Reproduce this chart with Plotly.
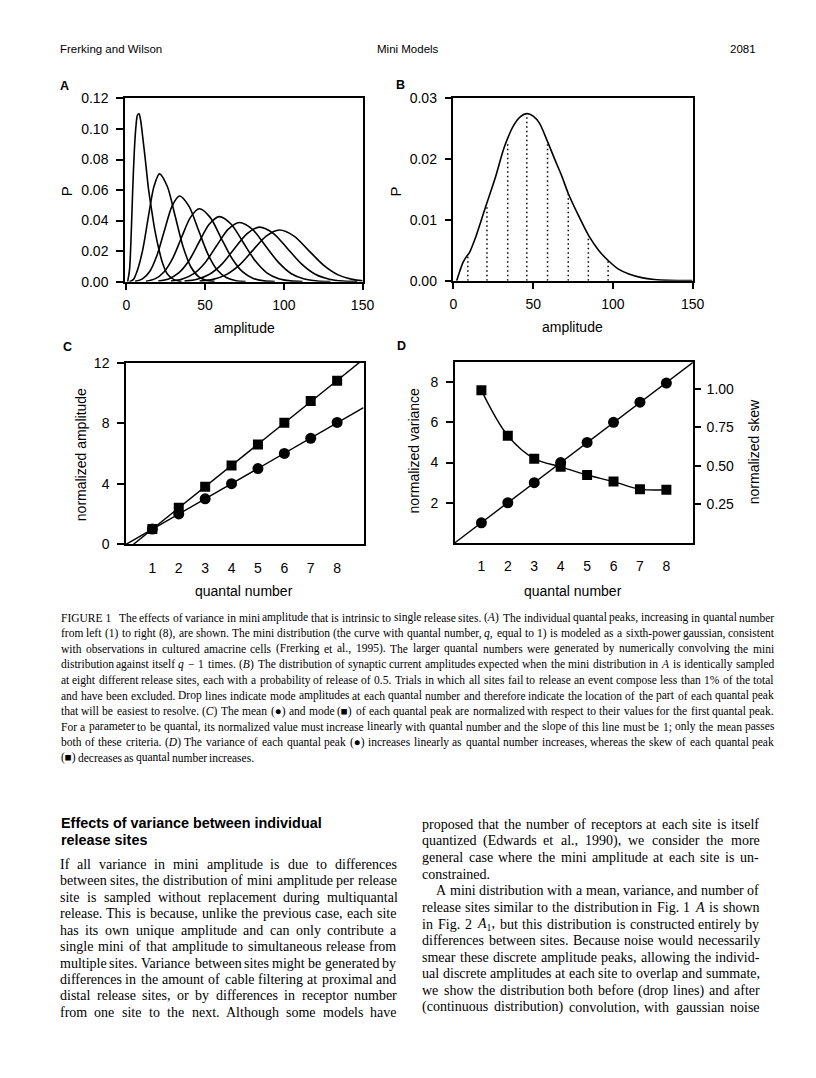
import re
import numpy as np
import plotly.graph_objects as go

W, H = 816, 1078
PAGE_MARGIN = 8  # default body margin of the html page (both sides)
SANS = "Liberation Sans, Arial, sans-serif"
SERIF = "Liberation Serif, Times New Roman, serif"

# ---------------- values ----------------
# (A) quantal peaks q = 1..8 : amplitude and P
PEAK1_X = [0.8, 2, 3, 4, 5, 6, 7, 8, 9, 10, 12, 14, 16, 18, 20, 23, 26, 30, 35]
PEAK1_Y = [0, 0.008, 0.030, 0.060, 0.085, 0.101, 0.109, 0.110, 0.106, 0.098,
           0.080, 0.061, 0.047, 0.034, 0.024, 0.012, 0.005, 0.0015, 0]
PEAK2_X = [2, 4.5, 7, 10.5, 14, 17.5, 21, 26, 31, 36, 41, 46, 51, 56]
PEAK2_Y = [0, 0.0015, 0.0075, 0.0215, 0.0428, 0.0623, 0.0706, 0.0623,
           0.0428, 0.0229, 0.0096, 0.0031, 0.0008, 0.0002]
PEAK3_X = [5.5, 10.2, 14.9, 19.6, 24.3, 29.0, 33.7, 39.7, 45.7, 51.7, 57.7, 63.7, 69.7, 75.7]
PEAK3_Y = [0.0002, 0.0018, 0.0068, 0.0178, 0.0340, 0.0495, 0.0561, 0.0495,
           0.0340, 0.0182, 0.0076, 0.0025, 0.0006, 0.0001]
PEAK4_X = [12.4, 18.1, 23.7, 29.4, 35.0, 40.7, 46.3, 53.2, 60.0, 66.9, 73.7, 80.6, 87.4, 94.3]
PEAK4_Y = [0.0003, 0.0018, 0.0062, 0.0153, 0.0289, 0.0421, 0.0477, 0.0421,
           0.0289, 0.0155, 0.0065, 0.0021, 0.0005, 0.0001]
PEAK5_X = [20.3, 26.8, 33.2, 39.7, 46.1, 52.6, 59.0, 66.6, 74.1, 81.7, 89.2, 96.8, 104.3, 111.9]
PEAK5_Y = [0.0004, 0.0018, 0.0057, 0.0137, 0.0258, 0.0376, 0.0426, 0.0376,
           0.0258, 0.0138, 0.0058, 0.0019, 0.0005, 0.0001]
PEAK6_X = [28.3, 35.6, 42.8, 50.1, 57.3, 64.6, 71.8, 80.1, 88.3, 96.6, 104.8, 113.1, 121.3, 129.6]
PEAK6_Y = [0.0004, 0.0017, 0.0052, 0.0126, 0.0235, 0.0342, 0.0387, 0.0342,
           0.0235, 0.0126, 0.0052, 0.0017, 0.0004, 0.0001]
PEAK7_X = [36.9, 44.9, 52.8, 60.8, 68.7, 76.7, 84.6, 93.5, 102.3, 111.2, 120.0, 128.9, 137.7, 146.6]
PEAK7_Y = [0.0004, 0.0016, 0.0048, 0.0116, 0.0217, 0.0315, 0.0357, 0.0315,
           0.0217, 0.0116, 0.0048, 0.0016, 0.0004, 0.0001]
PEAK8_X = [46.5, 55.0, 63.4, 71.9, 80.3, 88.8, 97.2, 106.5, 115.7, 125.0, 134.2, 143.5, 150]
PEAK8_Y = [0.0004, 0.0015, 0.0046, 0.0110, 0.0205, 0.0298, 0.0338, 0.0298,
           0.0205, 0.0110, 0.0046, 0.0015, 0.0006]

# (B) summed amplitude distribution and mode drop lines
B_X = [2, 4, 6, 8, 10, 14, 20, 26, 32, 38, 42, 46, 50, 54, 59, 64, 68, 72,
       78, 85, 91, 97, 104, 110, 118, 126, 135, 150]
B_Y = [0, 0.0016, 0.0030, 0.0039, 0.0046, 0.0072, 0.0120, 0.0167, 0.0220,
       0.0256, 0.0269, 0.0274, 0.0270, 0.0258, 0.0228, 0.0196, 0.0171, 0.0143,
       0.0109, 0.0073, 0.0050, 0.0033, 0.0018, 0.0011, 0.0005, 0.0002, 0.00005, 0]
DROP_X = [9, 21, 34, 46, 59, 72, 84.6, 97]
DROP_Y = [0.0042, 0.0125, 0.0226, 0.0273, 0.0228, 0.0143, 0.0074, 0.0033]

# (C) / (D) per quantal number
QUANTAL = [1, 2, 3, 4, 5, 6, 7, 8]
C_MEAN = [1, 2, 3, 4, 5, 6, 7, 8.05]
C_MODE = [1, 2.41, 3.8, 5.2, 6.6, 8.03, 9.46, 10.8]
D_VAR = [1, 2, 3, 4, 5, 6, 7, 7.95]
D_SKEW = [0.99, 0.696, 0.547, 0.494, 0.441, 0.398, 0.349, 0.345]

A_TICKS_X = [0, 50, 100, 150]
A_TICKS_Y = [0, 0.02, 0.04, 0.06, 0.08, 0.10, 0.12]
B_TICKS_Y = [0, 0.01, 0.02, 0.03]
C_TICKS_Y = [0, 4, 8, 12]
D_TICKS_Y = [2, 4, 6, 8]
D_TICKS_Y2 = [0.25, 0.50, 0.75, 1.00]

CAPTION_LINES = [
    "FIGURE\u00a01\u00a0\u00a0 The effects of variance in mini amplitude that is intrinsic to single release sites. (<i>A</i>) The individual quantal peaks, increasing in quantal number",
    "from left (1) to right (8), are shown. The mini distribution (the curve with quantal number, <i>q</i>, equal to 1) is modeled as a sixth-power gaussian, consistent",
    "with observations in cultured amacrine cells (Frerking et al., 1995). The larger quantal numbers were generated by numerically convolving the mini",
    "distribution against itself <i>q</i> \u2212 1 times. (<i>B</i>) The distribution of synaptic current amplitudes expected when the mini distribution in <i>A</i> is identically sampled",
    "at eight different release sites, each with a probability of release of 0.5. Trials in which all sites fail to release an event compose less than 1% of the total",
    "and have been excluded. Drop lines indicate mode amplitudes at each quantal number and therefore indicate the location of the part of each quantal peak",
    "that will be easiest to resolve. (<i>C</i>) The mean (\u25cf) and mode (\u25a0) of each quantal peak are normalized with respect to their values for the first quantal peak.",
    "For a parameter to be quantal, its normalized value must increase linearly with quantal number and the slope of this line must be 1; only the mean passes",
    "both of these criteria. (<i>D</i>) The variance of each quantal peak (\u25cf) increases linearly as quantal number increases, whereas the skew of each quantal peak",
    "(\u25a0) decreases as quantal number increases.",
]
LEFT_LINES = [
    "If all variance in mini amplitude is due to differences",
    "between sites, the distribution of mini amplitude per release",
    "site is sampled without replacement during multiquantal",
    "release. This is because, unlike the previous case, each site",
    "has its own unique amplitude and can only contribute a",
    "single mini of that amplitude to simultaneous release from",
    "multiple sites. Variance between sites might be generated by",
    "differences in the amount of cable filtering at proximal and",
    "distal release sites, or by differences in receptor number",
    "from one site to the next. Although some models have",
]
RIGHT_LINES = [
    "proposed that the number of receptors at each site is itself",
    "quantized (Edwards et al., 1990), we consider the more",
    "general case where the mini amplitude at each site is un-",
    "constrained.",
    "A mini distribution with a mean, variance, and number of",
    "release sites similar to the distribution in Fig. 1 <i>A</i> is shown",
    "in Fig. 2 <i>A</i><sub>1</sub>, but this distribution is constructed entirely by",
    "differences between sites. Because noise would necessarily",
    "smear these discrete amplitude peaks, allowing the individ-",
    "ual discrete amplitudes at each site to overlap and summate,",
    "we show the distribution both before (drop lines) and after",
    "(continuous distribution) convolution, with gaussian noise",
]

# figure sits inside the page margin, so the page is exactly W x H
FW, FH = W - 2 * PAGE_MARGIN, H - 2 * PAGE_MARGIN


def fx(p):
    return (p - PAGE_MARGIN) / FW


def fy(p):
    return 1 - (p - PAGE_MARGIN) / FH


# Times-metric advance widths (1/1000 em) for justifying the text blocks
_TW = dict(zip("abcdefghijklmnopqrstuvwxyz",
               [444, 500, 444, 500, 444, 333, 500, 500, 278, 278, 500, 278, 778,
                500, 500, 500, 500, 333, 389, 278, 500, 500, 722, 500, 500, 444]))
_TW.update(zip("ABCDEFGHIJKLMNOPQRSTUVWXYZ",
               [722, 667, 667, 722, 611, 556, 722, 722, 333, 389, 722, 611, 889,
                722, 722, 556, 722, 667, 556, 611, 722, 722, 944, 722, 722, 611]))
_TW.update({c: 500 for c in "0123456789"})
_TW.update({" ": 250, "\u00a0": 250, ".": 250, ",": 250, "(": 333, ")": 333,
            "-": 333, ";": 278, ":": 278, "%": 833, "\u2212": 564,
            "\u25cf": 604, "\u25a0": 604})


def text_em(s):
    total, scale = 0.0, 1.0
    for part in re.split(r"(<[^>]+>)", s):
        if part.startswith("<"):
            scale = 0.7 if part == "<sub>" else (1.0 if part == "</sub>" else scale)
            continue
        total += sum(_TW.get(ch, 500) for ch in part) * scale
    return total / 1000


def fit_size(lines, width, base, skip=()):
    size = base
    for i, ln in enumerate(lines):
        if i in skip:
            continue
        words = ln.split(" ")
        em = sum(text_em(w) for w in words) + 0.2 * (len(words) - 1)
        size = min(size, width / em)
    return size


def justified(lines, x0, x1, y0, dy, size, ragged=(), indents=None):
    indents = indents or {}
    out = []
    for i, ln in enumerate(lines):
        words = ln.split(" ")
        wd = [text_em(w) * size for w in words]
        ind = indents.get(i, 0)
        if i in ragged or len(words) == 1:
            gap = 0.25 * size
        else:
            gap = (x1 - x0 - ind - sum(wd)) / (len(words) - 1)
        x = x0 + ind
        for w, d in zip(words, wd):
            out.append(dict(text=w, x=fx(x), y=fy(y0 + i * dy), xref="paper", yref="paper",
                            xanchor="left", yanchor="middle", showarrow=False,
                            borderpad=0, borderwidth=0,
                            font=dict(family=SERIF, size=size, color="black")))
            x += d + gap
    return out


def label(text, x, y, size=14, bold=False, angle=0, anchor="center"):
    return dict(text=f"<b>{text}</b>" if bold else text, x=fx(x), y=fy(y),
                xref="paper", yref="paper", xanchor=anchor, yanchor="middle",
                showarrow=False, textangle=angle, borderpad=0,
                font=dict(family=SANS, size=size, color="black"))


def axis(dom, **kw):
    a = dict(domain=dom, showline=True, linecolor="black", linewidth=1.5, mirror=True,
             showgrid=False, zeroline=False, ticks="outside", ticklen=7, tickwidth=1.5,
             tickcolor="black", tickfont=dict(family=SANS, size=14, color="black"))
    a.update(kw)
    return a


fig = go.Figure()
LINE = dict(color="black", width=1.6)

# (A)
a_peaks = [(PEAK1_X, PEAK1_Y), (PEAK2_X, PEAK2_Y), (PEAK3_X, PEAK3_Y), (PEAK4_X, PEAK4_Y),
           (PEAK5_X, PEAK5_Y), (PEAK6_X, PEAK6_Y), (PEAK7_X, PEAK7_Y), (PEAK8_X, PEAK8_Y)]
for xs, ys in a_peaks:
    fig.add_trace(go.Scatter(x=xs, y=ys, mode="lines", xaxis="x", yaxis="y",
                             line=dict(LINE, shape="spline", smoothing=0.8)))

# (B)
fig.add_trace(go.Scatter(x=B_X, y=B_Y, mode="lines", xaxis="x2", yaxis="y2",
                         line=dict(LINE, shape="spline", smoothing=0.8)))
dx, dy = [], []
for x, h in zip(DROP_X, DROP_Y):
    dx += [x, x, None]
    dy += [0, h, None]
fig.add_trace(go.Scatter(x=dx, y=dy, mode="lines", xaxis="x2", yaxis="y2",
                         line=dict(color="black", width=1.5, dash="1.5px,3px")))

# (C) mean (circles) and mode (squares) with linear fits
span = np.array([0, 9])
for vals, sym, sz in ((C_MEAN, "circle", 11), (C_MODE, "square", 10)):
    k, b = np.polyfit(QUANTAL, vals, 1)
    fig.add_trace(go.Scatter(x=span, y=k * span + b, mode="lines", xaxis="x3", yaxis="y3",
                             line=dict(color="black", width=1.4)))
    fig.add_trace(go.Scatter(x=QUANTAL, y=vals, mode="markers", xaxis="x3", yaxis="y3",
                             marker=dict(symbol=sym, size=sz, color="black")))

# (D) variance (circles, left) and skew (squares, right)
k, b = np.polyfit(QUANTAL, D_VAR, 1)
fig.add_trace(go.Scatter(x=span, y=k * span + b, mode="lines", xaxis="x4", yaxis="y4",
                         line=dict(color="black", width=1.4)))
fig.add_trace(go.Scatter(x=QUANTAL, y=D_VAR, mode="markers", xaxis="x4", yaxis="y4",
                         marker=dict(symbol="circle", size=11, color="black")))
fig.add_trace(go.Scatter(x=QUANTAL, y=D_SKEW, mode="lines+markers", xaxis="x4", yaxis="y5",
                         line=dict(color="black", width=1.4, shape="spline", smoothing=1.0),
                         marker=dict(symbol="square", size=10, color="black")))

fig.update_traces(showlegend=False, hoverinfo="skip")

# ---------------- text ----------------
cap_size = fit_size(CAPTION_LINES, 785 - 57.5, 11.5, skip=(9,))
body_size = fit_size(LEFT_LINES + RIGHT_LINES, 343, 14, skip=(13,))
anns = []
anns += justified(CAPTION_LINES, 57.5, 785, 619, 15.8, cap_size, ragged=(9,))
anns += justified(LEFT_LINES, 56.7, 400, 869.3, 16.7, body_size)
anns += justified(RIGHT_LINES, 426.7, 770, 828.5, 16.9, body_size, ragged=(3,), indents={4: 14})

anns += [
    label("Frerking and Wilson", 56, 41, size=11.5, anchor="left"),
    label("Mini Models", 412, 41, size=11.5),
    label("2081", 768, 41, size=11.5, anchor="right"),
    label("A", 62, 79, size=12.5, bold=True),
    label("B", 404, 78, size=12.5, bold=True),
    label("C", 65, 344, size=12.5, bold=True),
    label("D", 405.5, 343, size=12.5, bold=True),
    label("P", 63, 186, size=15, angle=-90),
    label("amplitude", 245, 325),
    label("P", 399, 186, size=15, angle=-90),
    label("amplitude", 580, 324),
    label("normalized amplitude", 78.3, 453, angle=-90),
    label("quantal number", 245, 592),
    label("normalized variance", 418.3, 450, angle=-90),
    label("normalized skew", 765, 450, angle=-90),
    label("quantal number", 580, 592),
    label("Effects of variance between individual", 56.7, 827.3, size=14.4, bold=True, anchor="left"),
    label("release sites", 56.7, 844.3, size=14.4, bold=True, anchor="left"),
]

XSO, YSO = 3, 5  # tick label standoff
fig.update_layout(
    width=FW, height=FH,
    margin=dict(l=0, r=0, t=0, b=0),
    paper_bgcolor="white", plot_bgcolor="white",
    showlegend=False,
    font=dict(family=SANS, color="black"),
    annotations=anns,
    xaxis=axis([fx(123.3), fx(366)], anchor="y", range=[-0.9, 150.2], tickvals=A_TICKS_X,
               ticklabelstandoff=XSO),
    yaxis=axis([fy(277.7), fy(91.7)], anchor="x", range=[0, 0.12], tickvals=A_TICKS_Y,
               tickformat=".2f", ticklabelstandoff=YSO),
    xaxis2=axis([fx(458.5), fx(702.5)], anchor="y2", range=[0, 150], tickvals=A_TICKS_X,
                ticklabelstandoff=XSO),
    yaxis2=axis([fy(276.7), fy(91)], anchor="x2", range=[0, 0.03], tickvals=B_TICKS_Y,
                tickformat=".2f", ticklabelstandoff=YSO),
    xaxis3=axis([fx(124.3), fx(366.7)], anchor="y3", range=[0, 9], tickvals=QUANTAL,
                tickcolor="rgba(0,0,0,0)", ticklabelstandoff=XSO),
    yaxis3=axis([fy(544.3), fy(360)], anchor="x3", range=[0, 12], tickvals=C_TICKS_Y,
                ticklabelstandoff=YSO),
    xaxis4=axis([fx(460), fx(702.7)], anchor="y4", range=[0, 9], tickvals=QUANTAL,
                tickcolor="rgba(0,0,0,0)", ticklabelstandoff=XSO),
    yaxis4=axis([fy(543), fy(359.3)], anchor="x4", range=[0, 9], tickvals=D_TICKS_Y,
                ticklabelstandoff=YSO),
    yaxis5=axis([fy(543), fy(359.3)], anchor="x4", overlaying="y4", side="right",
                showline=False, mirror=False, range=[0, 1.174], tickvals=D_TICKS_Y2,
                tickformat=".2f", ticklabelstandoff=3),
)

fig.write_html("out.html")
